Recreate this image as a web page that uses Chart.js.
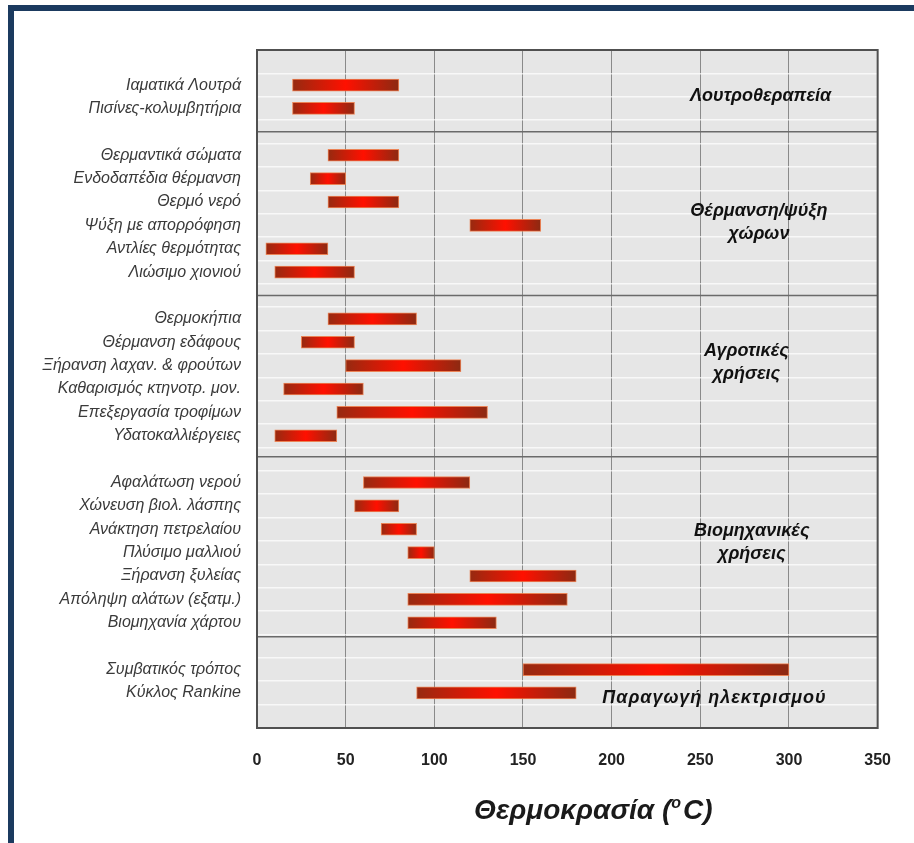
<!DOCTYPE html>
<html>
<head>
<meta charset="utf-8">
<script src="https://cdn.jsdelivr.net/npm/chart.js@4.4.1/dist/chart.umd.min.js"></script>
<style>
  body { margin: 0; background: #fff; }
  .frame-top { position: absolute; left: 8px; top: 5px; width: 906px; height: 6px; background: #1b3a5f; }
  .frame-left { position: absolute; left: 8px; top: 5px; width: 6px; height: 838px; background: #1b3a5f; }
  #wrap { position: absolute; left: 14px; top: 11px; width: 900px; height: 832px; }
</style>
</head>
<body>
<div class="frame-top"></div>
<div class="frame-left"></div>
<div id="wrap"><canvas id="chart"></canvas></div>
<script>
// rows (blank entries are the gaps between groups)
const categories = [
  '',
  'Ιαματικά Λουτρά', 'Πισίνες-κολυμβητήρια',
  '',
  'Θερμαντικά σώματα', 'Ενδοδαπέδια θέρμανση', 'Θερμό νερό',
  'Ψύξη με απορρόφηση', 'Αντλίες θερμότητας', 'Λιώσιμο χιονιού',
  '',
  'Θερμοκήπια', 'Θέρμανση εδάφους', 'Ξήρανση λαχαν. & φρούτων',
  'Καθαρισμός κτηνοτρ. μον.', 'Επεξεργασία τροφίμων', 'Υδατοκαλλιέργειες',
  '',
  'Αφαλάτωση νερού', 'Χώνευση βιολ. λάσπης', 'Ανάκτηση πετρελαίου',
  'Πλύσιμο μαλλιού', 'Ξήρανση ξυλείας', 'Απόληψη αλάτων (εξατμ.)', 'Βιομηχανία χάρτου',
  '',
  'Συμβατικός τρόπος', 'Κύκλος Rankine',
  ''
];

const lowTemps = [
  null,
  20, 20,
  null,
  40, 30, 40, 120, 5, 10,
  null,
  40, 25, 50, 15, 45, 10,
  null,
  60, 55, 70, 85, 120, 85, 85,
  null,
  150, 90,
  null
];

const highTemps = [
  null,
  80, 55,
  null,
  80, 50, 80, 160, 40, 55,
  null,
  90, 55, 115, 60, 130, 45,
  null,
  120, 80, 90, 100, 180, 175, 135,
  null,
  300, 180,
  null
];

const groupNames = [
  ['Λουτροθεραπεία'],
  ['Θέρμανση/ψύξη', 'χώρων'],
  ['Αγροτικές', 'χρήσεις'],
  ['Βιομηχανικές', 'χρήσεις'],
  ['Παραγωγή ηλεκτρισμού']
];

const xTicks = [0, 50, 100, 150, 200, 250, 300, 350];

// group label anchors: [x value, row position, letter spacing]
const groupAnchors = [[284, 1.47, 0], [283, 6.9, 0], [276, 12.85, 0], [279, 20.55, 0], [258, 27.2, 1]];
const separatorRows = [3, 10, 16.9, 24.6];

const ranges = lowTemps.map((lo, i) => lo == null ? null : [lo, highTemps[i]]);

Chart.defaults.font.family = "'Liberation Sans', Arial, sans-serif";

const plotBackground = {
  id: 'plotBackground',
  beforeDraw(chart) {
    const { ctx, chartArea: { left, top, width, height } } = chart;
    ctx.save();
    ctx.fillStyle = '#e6e6e6';
    ctx.fillRect(left, top, width, height);
    ctx.restore();
  }
};

const separators = {
  id: 'separators',
  beforeDatasetsDraw(chart) {
    const { ctx, chartArea: { left, right }, scales: { y } } = chart;
    ctx.save();
    ctx.strokeStyle = '#6a6a6a';
    ctx.lineWidth = 1.5;
    separatorRows.forEach(r => {
      const py = y.getPixelForValue(r);
      ctx.beginPath();
      ctx.moveTo(left, py);
      ctx.lineTo(right, py);
      ctx.stroke();
    });
    ctx.restore();
  }
};

const decorations = {
  id: 'decorations',
  afterDraw(chart) {
    const { ctx, chartArea: { left, top, right, bottom }, scales: { x, y } } = chart;
    ctx.save();
    // plot frame
    ctx.strokeStyle = '#505050';
    ctx.lineWidth = 2;
    ctx.strokeRect(left, top, right - left, bottom - top);

    // group labels
    ctx.fillStyle = '#111';
    ctx.font = "italic bold 18px 'Liberation Sans', Arial, sans-serif";
    ctx.textAlign = 'center';
    ctx.textBaseline = 'middle';
    groupNames.forEach((lines, i) => {
      const cx = x.getPixelForValue(groupAnchors[i][0]);
      const cy = y.getPixelForValue(groupAnchors[i][1]);
      ctx.letterSpacing = groupAnchors[i][2] + 'px';
      const lh = 23;
      lines.forEach((t, j) => {
        ctx.fillText(t, cx, cy + (j - (lines.length - 1) / 2) * lh);
      });
    });
    ctx.letterSpacing = '0px';

    // axis title with superscript o
    const big = "italic bold 28px 'Liberation Sans', Arial, sans-serif";
    const small = "italic bold 16px 'Liberation Sans', Arial, sans-serif";
    const p1 = 'Θερμοκρασία (', p2 = 'o', p3 = 'C)';
    ctx.textAlign = 'left';
    ctx.textBaseline = 'alphabetic';
    ctx.fillStyle = '#1a1a1a';
    ctx.font = big;
    const w1 = ctx.measureText(p1).width, w3 = ctx.measureText(p3).width;
    ctx.font = small;
    const w2 = ctx.measureText(p2).width;
    const total = w1 + w2 + w3 + 2;
    const tx = (left + right) / 2 + 26 - total / 2;
    const ty = 808;
    ctx.font = big;
    ctx.fillText(p1, tx, ty);
    ctx.font = small;
    ctx.fillText(p2, tx + w1, ty - 11);
    ctx.font = big;
    ctx.fillText(p3, tx + w1 + w2 + 2, ty);
    ctx.restore();
  }
};

function barGradient(c) {
  const chart = c.chart;
  const x = chart.scales.x;
  const v = c.raw;
  if (!v || !x) return '#ff1200';
  const x0 = x.getPixelForValue(v[0]);
  const x1 = x.getPixelForValue(v[1]);
  if (!isFinite(x0) || !isFinite(x1)) return '#ff1200';
  const g = chart.ctx.createLinearGradient(x0, 0, x1, 0);
  g.addColorStop(0, '#962a10');
  g.addColorStop(0.5, '#ff1000');
  g.addColorStop(1, '#8c2a12');
  return g;
}

new Chart(document.getElementById('chart'), {
  type: 'bar',
  data: {
    labels: categories,
    datasets: [{
      data: ranges,
      backgroundColor: barGradient,
      borderColor: 'rgba(235,120,70,0.9)',
      borderWidth: 1,
      borderSkipped: false,
      barThickness: 12
    }]
  },
  options: {
    indexAxis: 'y',
    responsive: true,
    maintainAspectRatio: false,
    animation: false,
    layout: {
      padding: { top: 39, right: 34, bottom: 10, left: 0 }
    },
    plugins: {
      legend: { display: false },
      tooltip: { enabled: false }
    },
    scales: {
      x: {
        type: 'linear',
        min: 0,
        max: 350,
        afterBuildTicks: (axis) => {
          axis.ticks = xTicks.map(v => ({ value: v }));
        },
        border: { display: false },
        grid: {
          color: '#8a8a8a',
          lineWidth: 1,
          drawTicks: false
        },
        ticks: {
          padding: 23,
          color: '#222',
          font: { size: 16, weight: 'bold' }
        },
        afterFit: (axis) => {
          axis.height = 105;
        }
      },
      y: {
        type: 'category',
        offset: true,
        border: { display: false },
        grid: {
          offset: true,
          color: 'rgba(255,255,255,0.7)',
          lineWidth: 1.5,
          drawTicks: false
        },
        ticks: {
          autoSkip: false,
          padding: 16,
          color: '#3a3a3a',
          font: { size: 16, style: 'italic' }
        },
        afterFit: (axis) => {
          axis.width = 243;
        }
      }
    }
  },
  plugins: [plotBackground, separators, decorations]
});
</script>
</body>
</html>
